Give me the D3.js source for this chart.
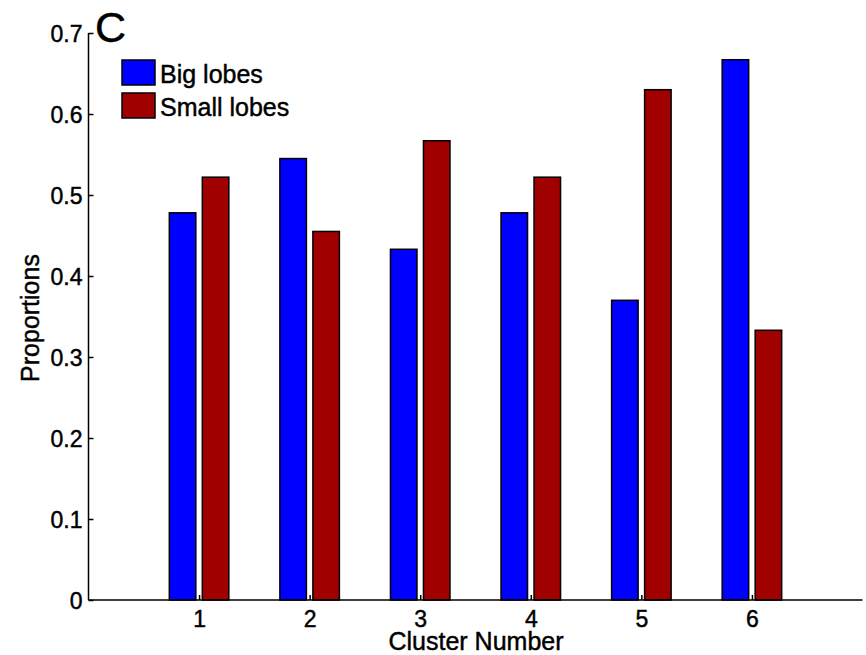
<!DOCTYPE html>
<html>
<head>
<meta charset="utf-8">
<script src="https://cdn.jsdelivr.net/npm/d3@7"></script>
<style>
  html, body { margin: 0; padding: 0; background: #fff; }
  svg { display: block; font-family: "Liberation Sans", Arial, Helvetica, sans-serif; }
  text { fill: #000; stroke: #000; stroke-width: 0.45px; }
</style>
</head>
<body>
<svg id="chart" width="866" height="655"></svg>
<script>
// Proportion of big vs small lobes in each cluster
const clusters = [1, 2, 3, 4, 5, 6];
const bigLobes = [0.478, 0.545, 0.433, 0.478, 0.370, 0.667];
const smallLobes = [0.522, 0.455, 0.567, 0.522, 0.630, 0.333];
const seriesNames = ["Big lobes", "Small lobes"];
const seriesColors = ["#0000ff", "#a00000"];
const yTicks = [0, 0.1, 0.2, 0.3, 0.4, 0.5, 0.6, 0.7];

const svg = d3.select("#chart");
const plotLeft = 88.5, plotRight = 862.5, plotTop = 33, plotBottom = 600;

const x = d3.scaleLinear().domain([0, 7]).range([plotLeft, plotRight]);
const y = d3.scaleLinear().domain([0, 0.7]).range([plotBottom, plotTop]);

const barW = 26.5, offset = 16.5;
const series = [bigLobes, smallLobes];

// bars
series.forEach((vals, si) => {
  svg.append("g").selectAll("rect")
    .data(clusters.map((c, i) => ({ c, v: vals[i] })))
    .join("rect")
    .attr("x", d => x(d.c) + (si === 0 ? -offset : offset) - barW / 2)
    .attr("y", d => y(d.v))
    .attr("width", barW)
    .attr("height", d => y(0) - y(d.v))
    .attr("fill", seriesColors[si])
    .attr("stroke", "#000")
    .attr("stroke-width", 1.5);
});

// y axis (ticks point inward)
const yAxis = d3.axisRight(y).tickValues(yTicks).tickSize(5)
  .tickFormat(d => d === 0 ? "0" : d3.format(".1f")(d));
const gy = svg.append("g").attr("transform", `translate(${plotLeft},0)`).call(yAxis);
gy.select(".domain").attr("stroke", "#000").attr("stroke-width", 1.5)
  .attr("d", `M0,${plotTop}V${plotBottom}`);
gy.selectAll(".tick line").attr("stroke", "#000").attr("stroke-width", 1.5);
gy.selectAll(".tick text")
  .attr("x", -6).attr("dy", "0.36em")
  .attr("text-anchor", "end")
  .style("font-size", "23px");

// x axis (ticks point inward)
const xAxis = d3.axisTop(x).tickValues(clusters).tickSize(5).tickFormat(d3.format("d"));
const gx = svg.append("g").attr("transform", `translate(0,${plotBottom})`).call(xAxis);
gx.select(".domain").attr("stroke", "#000").attr("stroke-width", 1.5)
  .attr("d", `M${plotLeft},0H${plotRight}`);
gx.selectAll(".tick line").attr("stroke", "#000").attr("stroke-width", 1.5);
gx.selectAll(".tick text")
  .attr("y", 27).attr("dy", 0)
  .style("font-size", "23px");

// axis labels
svg.append("text")
  .attr("x", 476).attr("y", 650)
  .attr("text-anchor", "middle")
  .style("font-size", "25px")
  .text("Cluster Number");

svg.append("text")
  .attr("transform", `translate(39,318) rotate(-90)`)
  .attr("text-anchor", "middle")
  .style("font-size", "25px")
  .text("Proportions");

// panel letter
svg.append("text")
  .attr("x", 95).attr("y", 42)
  .style("font-size", "43px")
  .text("C");

// legend
const legend = svg.append("g").attr("transform", "translate(122,60)");
seriesNames.forEach((name, i) => {
  const row = legend.append("g").attr("transform", `translate(0,${i * 33})`);
  row.append("rect")
    .attr("width", 33).attr("height", 25)
    .attr("fill", seriesColors[i])
    .attr("stroke", "#000").attr("stroke-width", 1.5);
  row.append("text")
    .attr("x", 38).attr("y", 23)
    .style("font-size", "25px")
    .text(name);
});
</script>
</body>
</html>
